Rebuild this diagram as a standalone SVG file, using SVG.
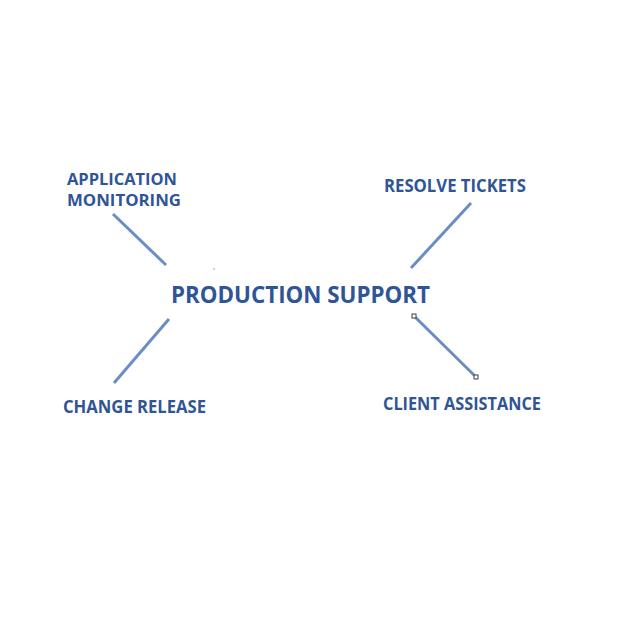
<svg xmlns="http://www.w3.org/2000/svg" width="622" height="622" viewBox="0 0 622 622">
<style>
text{font-family:"Open Sans","Liberation Sans",sans-serif;font-weight:bold;fill:#2F5597;}
.s{font-size:17px;}
.a{font-size:16px;}
.t{font-size:23px;}
.c line{stroke:#6A8EC4;stroke-width:3;stroke-linecap:butt;}
.h{fill:#fff;stroke:#404040;stroke-width:1;}
</style>
<rect width="622" height="622" fill="#fff"/>
<g id="connectors" class="c">
<line x1="113" y1="214" x2="166" y2="265"/>
<line x1="471" y1="203" x2="411" y2="268"/>
<line x1="169" y1="319" x2="114" y2="383"/>
<line x1="414" y1="316" x2="476" y2="377"/>
<rect class="h" x="412" y="314" width="4" height="4"/>
<rect class="h" x="474" y="375" width="4" height="4"/>
<rect x="213.5" y="268.5" width="1" height="1" fill="#555"/>
</g>
<g id="center"><text class="t" x="171" y="302.5" textLength="259" lengthAdjust="spacingAndGlyphs">PRODUCTION SUPPORT</text></g>
<g id="app-monitoring">
<text class="a" x="67" y="184.5" textLength="110" lengthAdjust="spacingAndGlyphs">APPLICATION</text>
<text class="a" x="67" y="206" textLength="114" lengthAdjust="spacingAndGlyphs">MONITORING</text>
</g>
<g id="resolve-tickets"><text class="s" x="384" y="192" textLength="142" lengthAdjust="spacingAndGlyphs">RESOLVE TICKETS</text></g>
<g id="change-release"><text class="s" x="63" y="413" textLength="143" lengthAdjust="spacingAndGlyphs">CHANGE RELEASE</text></g>
<g id="client-assistance"><text class="s" x="383" y="410" textLength="158" lengthAdjust="spacingAndGlyphs">CLIENT ASSISTANCE</text></g>
</svg>
